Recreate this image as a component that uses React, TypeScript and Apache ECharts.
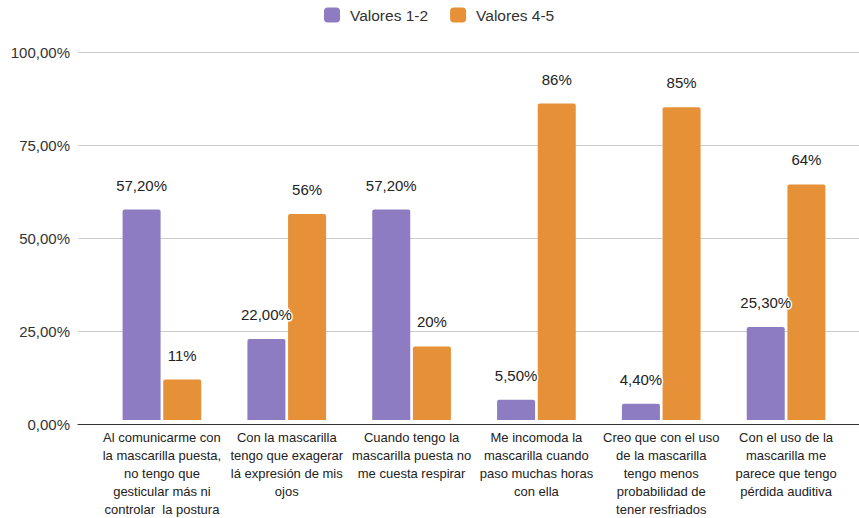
import React, { useEffect, useRef } from "react";
import * as echarts from "echarts";

const categories = [
  "Al comunicarme con\nla mascarilla puesta,\nno tengo que\ngesticular más ni\ncontrolar  la postura",
  "Con la mascarilla\ntengo que exagerar\nlá expresión de mis\nojos",
  "Cuando tengo la\nmascarilla puesta no\nme cuesta respirar",
  "Me incomoda la\nmascarilla cuando\npaso muchas horas\ncon ella",
  "Creo que con el uso\nde la mascarilla\ntengo menos\nprobabilidad de\ntener resfriados",
  "Con el uso de la\nmascarilla me\nparece que tengo\npérdida auditiva",
];

const seriesNames = ["Valores 1-2", "Valores 4-5"];
const valores12 = [57.2, 22.0, 57.2, 5.5, 4.4, 25.3];
const valores45 = [11, 56, 20, 86, 85, 64];

const yTicks = { min: 0, max: 100, interval: 25 };

const PURPLE = "#8e7cc3";
const ORANGE = "#e69138";
const FONT = "'Liberation Sans', Arial, sans-serif";

const pct2 = (v: number) => v.toFixed(2).replace(".", ",") + "%";
const pct0 = (v: number) => Math.round(v) + "%";

export default function App() {
  const ref = useRef<HTMLDivElement>(null);

  useEffect(() => {
    if (!ref.current) return;
    const chart = echarts.init(ref.current, null, { renderer: "svg" });

    const barLabel = (fmt: (v: number) => string) => ({
      show: true,
      position: "top" as const,
      distance: 17,
      fontFamily: FONT,
      fontSize: 15,
      color: "#222",
      textBorderColor: "#fff",
      textBorderWidth: 3,
      formatter: (p: any) => fmt(p.value as number),
    });

    chart.setOption({
      animation: false,
      backgroundColor: "#fff",
      textStyle: { fontFamily: FONT },
      legend: {
        top: 2,
        left: 319,
        itemWidth: 16,
        itemHeight: 15,
        itemGap: 22,
        icon: "roundRect",
        textStyle: {
          fontFamily: FONT,
          fontSize: 15.5,
          color: "#333",
          padding: [0, 0, 0, 5],
        },
        data: seriesNames,
      },
      grid: [
        // background grid: gridlines, y labels and baseline span the full width
        { left: 78, right: 0, top: 52, bottom: 94 },
        // bar grid: categories laid out in the inner band
        { left: 99.5, right: 10.5, top: 52, bottom: 94 },
      ],
      xAxis: [
        {
          gridIndex: 0,
          type: "category",
          data: categories,
          axisLine: { show: true, lineStyle: { color: "#333", width: 1 } },
          axisTick: { show: false },
          axisLabel: { show: false },
          splitLine: { show: false },
          z: 5,
        },
        {
          gridIndex: 1,
          type: "category",
          data: categories,
          axisLine: { show: false },
          axisTick: { show: false },
          axisLabel: {
            interval: 0,
            margin: 8,
            fontFamily: FONT,
            fontSize: 13,
            lineHeight: 18,
            color: "#222",
            align: "center",
            verticalAlign: "top",
          },
        },
      ],
      yAxis: [
        {
          gridIndex: 0,
          type: "value",
          min: yTicks.min,
          max: yTicks.max,
          interval: yTicks.interval,
          axisLine: { show: false },
          axisTick: { show: false },
          axisLabel: {
            margin: 8,
            fontFamily: FONT,
            fontSize: 15,
            color: "#333",
            formatter: (v: number) => pct2(v),
          },
          splitLine: { lineStyle: { color: "#cccccc", width: 1 } },
        },
        {
          gridIndex: 1,
          type: "value",
          min: yTicks.min,
          max: yTicks.max,
          interval: yTicks.interval,
          show: false,
          splitLine: { show: false },
        },
      ],
      series: [
        {
          name: seriesNames[0],
          type: "bar",
          xAxisIndex: 1,
          yAxisIndex: 1,
          data: valores12,
          barWidth: 38,
          barGap: "7%",
          itemStyle: { color: PURPLE, borderRadius: [2, 2, 0, 0] },
          label: barLabel(pct2),
        },
        {
          name: seriesNames[1],
          type: "bar",
          xAxisIndex: 1,
          yAxisIndex: 1,
          data: valores45,
          barWidth: 38,
          barGap: "7%",
          itemStyle: { color: ORANGE, borderRadius: [2, 2, 0, 0] },
          label: barLabel(pct0),
        },
      ],
    });

    return () => chart.dispose();
  }, []);

  return (
    <div
      ref={ref}
      style={{ position: "fixed", left: 0, top: 0, width: 859, height: 518 }}
    />
  );
}
